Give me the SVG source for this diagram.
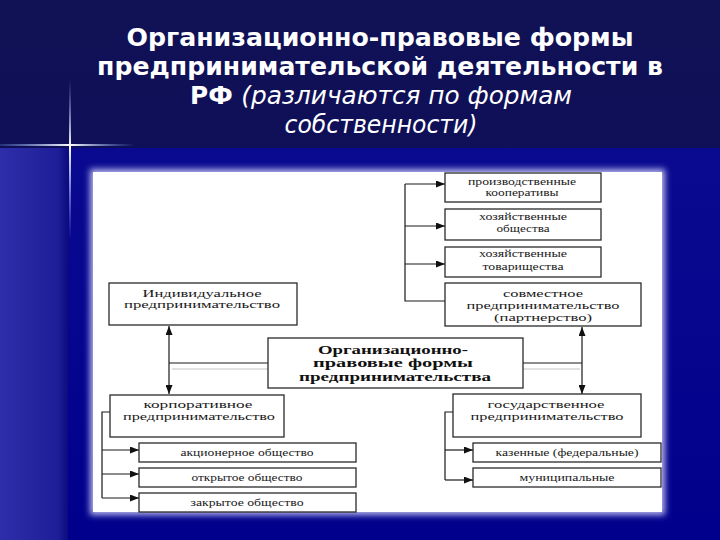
<svg xmlns="http://www.w3.org/2000/svg" width="720" height="540" viewBox="0 0 720 540">
<defs>
<style>
.box{fill:#fff;stroke:#2a2a2a;stroke-width:1.3}
.t{font-family:"Liberation Serif","DejaVu Serif",serif;font-size:10px;fill:#1a1a1a;text-anchor:middle}
.tb{font-family:"Liberation Serif","DejaVu Serif",serif;font-size:12px;font-weight:bold;fill:#111;text-anchor:middle}
.ttl{font-family:"DejaVu Sans","Open Sans",sans-serif;font-size:24px;font-weight:bold;fill:#fff;text-anchor:middle}
.it{font-family:"DejaVu Sans","Open Sans",sans-serif;font-style:italic;font-weight:normal}
.ln{fill:none;stroke:#1a1a1a;stroke-width:1.2}
</style>
<marker id="ah" viewBox="0 0 9 7" refX="9" refY="3.5" markerWidth="9" markerHeight="7" markerUnits="userSpaceOnUse" orient="auto">
<path d="M0,0 L9,3.5 L0,7 z" fill="#111"/>
</marker>
<linearGradient id="top" x1="0" y1="0" x2="0" y2="1">
<stop offset="0" stop-color="#111155"/>
<stop offset="1" stop-color="#0b0b62"/>
</linearGradient>
<linearGradient id="bot" x1="0" y1="0" x2="0" y2="1">
<stop offset="0" stop-color="#0a0a90"/>
<stop offset="1" stop-color="#00008c"/>
</linearGradient>
<linearGradient id="lstrip" x1="0" y1="0" x2="1" y2="0">
<stop offset="0" stop-color="#2e2eaa"/>
<stop offset="0.85" stop-color="#1e1e98"/>
<stop offset="1" stop-color="#0c0c7e"/>
</linearGradient>
<linearGradient id="fv" x1="0" y1="0" x2="0" y2="1">
<stop offset="0" stop-color="#8ab4ff" stop-opacity="0"/>
<stop offset="0.42" stop-color="#ffffff" stop-opacity="1"/>
<stop offset="1" stop-color="#8ab4ff" stop-opacity="0"/>
</linearGradient>
<linearGradient id="fh" x1="0" y1="0" x2="1" y2="0">
<stop offset="0" stop-color="#8ab4ff" stop-opacity="0.2"/>
<stop offset="0.52" stop-color="#ffffff" stop-opacity="1"/>
<stop offset="1" stop-color="#8ab4ff" stop-opacity="0"/>
</linearGradient>
<filter id="blur" x="-10%" y="-10%" width="120%" height="120%">
<feGaussianBlur stdDeviation="3"/>
</filter>
</defs>

<g id="background">
<rect x="0" y="0" width="720" height="540" fill="url(#top)"/>
<rect x="0" y="148" width="720" height="392" fill="url(#bot)"/>
<rect x="0" y="148" width="68" height="392" fill="url(#lstrip)"/>
<rect x="69" y="80" width="2" height="160" fill="url(#fv)"/>
<rect x="0" y="144" width="135" height="2" fill="url(#fh)"/>
</g>

<g id="title">
<text class="ttl" x="380" y="46" textLength="507" lengthAdjust="spacingAndGlyphs">Организационно-правовые формы</text>
<text class="ttl" x="380" y="75" textLength="566" lengthAdjust="spacingAndGlyphs">предпринимательской деятельности в</text>
<text class="ttl" x="381" y="104" textLength="382" lengthAdjust="spacingAndGlyphs">РФ <tspan class="it">(различаются по формам</tspan></text>
<text class="ttl it" x="381" y="133" textLength="193" lengthAdjust="spacingAndGlyphs">собственности)</text>
</g>

<g id="panel">
<rect x="90" y="169" width="575" height="346" fill="#b8b8ee" filter="url(#blur)"/>
<rect x="93" y="172" width="569" height="340" fill="#ffffff"/>
</g>

<g id="connectors">
<path class="ln" d="M405,184 V301 H445"/>
<line class="ln" x1="405" y1="184" x2="445" y2="184" marker-end="url(#ah)"/>
<line class="ln" x1="405" y1="226" x2="445" y2="226" marker-end="url(#ah)"/>
<line class="ln" x1="405" y1="264" x2="445" y2="264" marker-end="url(#ah)"/>
<path class="ln" d="M268,363 H169"/>
<line class="ln" x1="169" y1="363" x2="169" y2="326" marker-end="url(#ah)"/>
<line class="ln" x1="169" y1="363" x2="169" y2="394" marker-end="url(#ah)"/>
<path class="ln" d="M523,363 H582"/>
<line class="ln" x1="582" y1="363" x2="582" y2="327" marker-end="url(#ah)"/>
<line class="ln" x1="582" y1="363" x2="582" y2="394" marker-end="url(#ah)"/>
<line x1="172" y1="369" x2="268" y2="369" stroke="#c4c4c4" stroke-width="1"/>
<line x1="523" y1="369" x2="580" y2="369" stroke="#c4c4c4" stroke-width="1"/>
<path class="ln" d="M110,412 H102 V498"/>
<line class="ln" x1="102" y1="450" x2="139" y2="450" marker-end="url(#ah)"/>
<line class="ln" x1="102" y1="474" x2="139" y2="474" marker-end="url(#ah)"/>
<line class="ln" x1="102" y1="498" x2="139" y2="498" marker-end="url(#ah)"/>
<path class="ln" d="M453,412 H445 V480"/>
<line class="ln" x1="445" y1="450" x2="473" y2="450" marker-end="url(#ah)"/>
<line class="ln" x1="445" y1="480" x2="473" y2="480" marker-end="url(#ah)"/>
</g>

<g id="n-prodcoop">
<rect class="box" x="445" y="173" width="156" height="29"/>
<text class="t" x="522" y="185" textLength="108" lengthAdjust="spacingAndGlyphs">производственные</text>
<text class="t" x="522" y="196" textLength="73" lengthAdjust="spacingAndGlyphs">кооперативы</text>
</g>
<g id="n-hozob">
<rect class="box" x="445" y="209" width="156" height="31"/>
<text class="t" x="523" y="220" textLength="88" lengthAdjust="spacingAndGlyphs">хозяйственные</text>
<text class="t" x="523" y="232" textLength="53" lengthAdjust="spacingAndGlyphs">общества</text>
</g>
<g id="n-hoztov">
<rect class="box" x="445" y="247" width="156" height="30"/>
<text class="t" x="523" y="257" textLength="88" lengthAdjust="spacingAndGlyphs">хозяйственные</text>
<text class="t" x="523" y="270" textLength="81" lengthAdjust="spacingAndGlyphs">товарищества</text>
</g>
<g id="n-sovm">
<rect class="box" x="445" y="283" width="196" height="43"/>
<text class="t" x="543" y="297" textLength="80" lengthAdjust="spacingAndGlyphs">совместное</text>
<text class="t" x="543" y="309" style="font-size:11px" textLength="153" lengthAdjust="spacingAndGlyphs">предпринимательство</text>
<text class="t" x="543" y="321" textLength="98" lengthAdjust="spacingAndGlyphs">(партнерство)</text>
</g>
<g id="n-indiv">
<rect class="box" x="109" y="283" width="188" height="42"/>
<text class="t" x="202" y="297" textLength="119" lengthAdjust="spacingAndGlyphs">Индивидуальное</text>
<text class="t" x="202" y="308" textLength="156" lengthAdjust="spacingAndGlyphs">предпринимательство</text>
</g>
<g id="n-center">
<rect class="box" x="268" y="338" width="255" height="50"/>
<text class="tb" x="393" y="354" textLength="150" lengthAdjust="spacingAndGlyphs">Организационно-</text>
<text class="tb" x="393" y="367" textLength="160" lengthAdjust="spacingAndGlyphs">правовые формы</text>
<text class="tb" x="395" y="381" textLength="192" lengthAdjust="spacingAndGlyphs">предпринимательства</text>
</g>
<g id="n-korp">
<rect class="box" x="110" y="395" width="174" height="42"/>
<text class="t" x="198" y="408" textLength="109" lengthAdjust="spacingAndGlyphs">корпоративное</text>
<text class="t" x="199" y="420" textLength="152" lengthAdjust="spacingAndGlyphs">предпринимательство</text>
</g>
<g id="n-ao">
<rect class="box" x="139" y="443" width="217" height="19"/>
<text class="t" x="247" y="456" textLength="133" lengthAdjust="spacingAndGlyphs">акционерное общество</text>
</g>
<g id="n-open">
<rect class="box" x="139" y="468" width="217" height="19"/>
<text class="t" x="247" y="481" textLength="111" lengthAdjust="spacingAndGlyphs">открытое общество</text>
</g>
<g id="n-closed">
<rect class="box" x="139" y="493" width="217" height="19"/>
<text class="t" x="247" y="506" textLength="113" lengthAdjust="spacingAndGlyphs">закрытое общество</text>
</g>
<g id="n-gos">
<rect class="box" x="453" y="394" width="188" height="43"/>
<text class="t" x="546" y="408" textLength="117" lengthAdjust="spacingAndGlyphs">государственное</text>
<text class="t" x="547" y="420" textLength="153" lengthAdjust="spacingAndGlyphs">предпринимательство</text>
</g>
<g id="n-kaz">
<rect class="box" x="473" y="443" width="188" height="19"/>
<text class="t" x="567" y="456" textLength="143" lengthAdjust="spacingAndGlyphs">казенные (федеральные)</text>
</g>
<g id="n-mun">
<rect class="box" x="473" y="468" width="188" height="19"/>
<text class="t" x="567" y="481" textLength="95" lengthAdjust="spacingAndGlyphs">муниципальные</text>
</g>
</svg>
